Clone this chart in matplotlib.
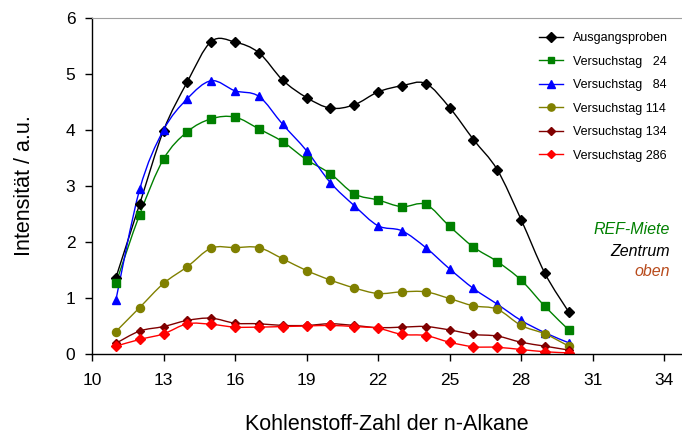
import numpy as np
import matplotlib
matplotlib.use("Agg")
import matplotlib.pyplot as plt
from matplotlib.path import Path
from matplotlib.patches import PathPatch

plt.rcParams['font.family'] = ['Liberation Sans', 'DejaVu Sans']

# carbon number of the n-alkanes
carbon = [11, 12, 13, 14, 15, 16, 17, 18, 19, 20,
          21, 22, 23, 24, 25, 26, 27, 28, 29, 30]

ausgang = [1.36, 2.68, 3.99, 4.86, 5.58, 5.57, 5.38, 4.89, 4.58, 4.39,
           4.45, 4.68, 4.79, 4.83, 4.40, 3.83, 3.29, 2.40, 1.44, 0.75]
tag24 = [1.26, 2.49, 3.48, 3.97, 4.20, 4.23, 4.02, 3.79, 3.47, 3.22,
         2.86, 2.75, 2.63, 2.67, 2.28, 1.91, 1.65, 1.32, 0.85, 0.43]
tag84 = [0.96, 2.94, 4.00, 4.56, 4.88, 4.70, 4.60, 4.10, 3.63, 3.06,
         2.65, 2.29, 2.20, 1.90, 1.52, 1.17, 0.89, 0.60, 0.38, 0.20]
tag114 = [0.40, 0.83, 1.26, 1.56, 1.89, 1.90, 1.90, 1.70, 1.49, 1.32,
          1.18, 1.08, 1.11, 1.11, 0.99, 0.86, 0.80, 0.51, 0.36, 0.14]
tag134 = [0.19, 0.41, 0.49, 0.60, 0.64, 0.55, 0.54, 0.51, 0.51, 0.54,
          0.51, 0.47, 0.48, 0.49, 0.43, 0.35, 0.32, 0.21, 0.14, 0.07]
tag286 = [0.14, 0.26, 0.36, 0.54, 0.53, 0.48, 0.48, 0.49, 0.50, 0.51,
          0.49, 0.46, 0.35, 0.33, 0.21, 0.13, 0.12, 0.08, 0.04, 0.02]

series = [
    ("Ausgangsproben", ausgang, "black", "D", 5.3),
    ("Versuchstag   24", tag24, "#008000", "s", 5.2),
    ("Versuchstag   84", tag84, "#0000ff", "^", 6.2),
    ("Versuchstag 114", tag114, "#808000", "o", 5.8),
    ("Versuchstag 134", tag134, "#800000", "D", 4.0),
    ("Versuchstag 286", tag286, "#ff0000", "D", 5.0),
]

x_ticks = [10, 13, 16, 19, 22, 25, 28, 31, 34]


def smooth_path(x, y):
    """Excel-like smoothed line: cubic Bezier through every point."""
    pts = np.column_stack([x, y]).astype(float)
    n = len(pts)
    verts = [pts[0]]
    codes = [Path.MOVETO]
    for i in range(n - 1):
        p0 = pts[i - 1] if i > 0 else pts[i]
        p1, p2 = pts[i], pts[i + 1]
        p3 = pts[i + 2] if i + 2 < n else pts[i + 1]
        c1 = p1 + (p2 - p0) / 6.0
        c2 = p2 - (p3 - p1) / 6.0
        verts += [c1, c2, p2]
        codes += [Path.CURVE4] * 3
    return Path(verts, codes)


fig = plt.figure(figsize=(6.82, 4.37), dpi=100)
ax = fig.add_axes([92 / 682, 1 - 354 / 437, 1 - 92 / 682, (354 - 18) / 437])

for label, vals, col, mk, ms in series:
    ax.add_patch(PathPatch(smooth_path(carbon, vals), fill=False,
                           edgecolor=col, lw=1.0))
    ax.plot(carbon, vals, ls="none", marker=mk, ms=ms, color=col)
    # legend proxy
    ax.plot([], [], color=col, lw=1.0, marker=mk, ms=ms * 0.9, label=label)

ax.set_xlim(10, 34.75)
ax.set_ylim(0, 6)
ax.set_xticks(x_ticks)
ax.set_yticks(range(0, 7))
ax.tick_params(labelsize=12.5, length=5, width=1, direction="out")
ax.tick_params(axis="x", pad=9)
ax.tick_params(axis="y", pad=7)

ax.spines["right"].set_visible(False)
ax.spines["top"].set_color("#a0a0a0")
ax.spines["left"].set_linewidth(1)
ax.spines["bottom"].set_linewidth(1)

ax.set_xlabel("Kohlenstoff-Zahl der n-Alkane", fontsize=15.5, labelpad=18.5)
ax.set_ylabel("Intensität / a.u.", fontsize=15.5, labelpad=22)

ax.legend(loc="upper left", bbox_to_anchor=(528 / 682, 1 - 21 / 437),
          bbox_transform=fig.transFigure, frameon=False, fontsize=9,
          handlelength=1.9, handletextpad=0.8, labelspacing=0.92)

fig.text(670 / 682, 1 - 229 / 437, "REF-Miete", color="#008000",
         style="italic", fontsize=11.5, ha="right", va="center")
fig.text(670 / 682, 1 - 251 / 437, "Zentrum", color="black",
         style="italic", fontsize=11.5, ha="right", va="center")
fig.text(670 / 682, 1 - 272 / 437, "oben", color="#b84a1b",
         style="italic", fontsize=11.5, ha="right", va="center")

fig.savefig("out.png", dpi=100)
